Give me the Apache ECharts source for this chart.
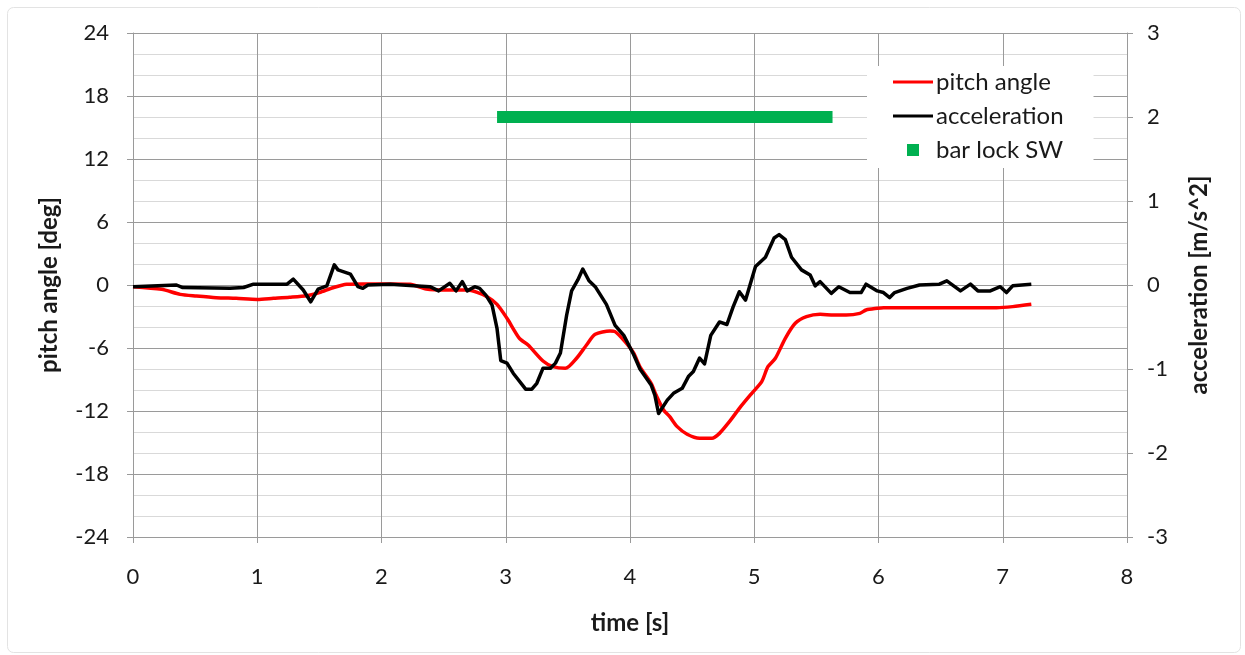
<!DOCTYPE html>
<html>
<head>
<meta charset="utf-8">
<script src="https://cdn.jsdelivr.net/npm/echarts@6/dist/echarts.min.js"></script>
<style>
html,body{margin:0;padding:0;background:#fff;}
#chart{width:1245px;height:655px;}
</style>
</head>
<body>
<div id="chart"></div>
<script>
// ---- data ----
const accTime = [0,0.35,0.4,0.78,0.89,0.97,1.24,1.29,1.37,1.43,1.49,1.56,1.62,1.65,1.75,1.81,1.85,1.89,2.07,2.26,2.39,2.46,2.55,2.6,2.65,2.69,2.75,2.79,2.84,2.89,2.93,2.96,3.01,3.06,3.16,3.21,3.25,3.3,3.36,3.4,3.44,3.49,3.53,3.58,3.62,3.67,3.72,3.81,3.88,3.95,4.03,4.08,4.17,4.2,4.23,4.3,4.35,4.42,4.47,4.51,4.56,4.6,4.65,4.72,4.78,4.83,4.88,4.93,5.01,5.09,5.16,5.2,5.25,5.3,5.38,5.45,5.49,5.53,5.62,5.68,5.77,5.86,5.9,5.99,6.04,6.09,6.13,6.23,6.33,6.49,6.55,6.66,6.74,6.8,6.9,6.98,7.03,7.08,7.23];
const accVal = [-0.02,0,-0.03,-0.04,-0.03,0.01,0.01,0.07,-0.06,-0.2,-0.05,-0.01,0.24,0.18,0.13,-0.02,-0.04,0,0.01,-0.01,-0.02,-0.07,0.02,-0.07,0.04,-0.07,-0.02,-0.04,-0.12,-0.24,-0.52,-0.9,-0.93,-1.05,-1.24,-1.24,-1.17,-0.99,-0.99,-0.93,-0.81,-0.36,-0.07,0.06,0.19,0.05,-0.02,-0.23,-0.48,-0.6,-0.83,-1.0,-1.19,-1.31,-1.53,-1.37,-1.29,-1.23,-1.09,-1.03,-0.87,-0.94,-0.6,-0.44,-0.47,-0.26,-0.08,-0.18,0.22,0.33,0.56,0.6,0.54,0.33,0.18,0.12,-0.01,0.04,-0.1,-0.02,-0.09,-0.09,0.01,-0.07,-0.09,-0.15,-0.09,-0.04,0,0.01,0.05,-0.07,0.01,-0.07,-0.07,-0.02,-0.09,-0.01,0.01];

const pitchTime = [0,0.23,0.38,0.51,0.67,0.83,1.0,1.13,1.26,1.4,1.5,1.61,1.72,1.85,2.07,2.23,2.36,2.52,2.69,2.77,2.85,2.93,3.01,3.11,3.18,3.3,3.38,3.48,3.57,3.65,3.72,3.84,3.88,3.96,4.03,4.08,4.17,4.21,4.27,4.32,4.38,4.46,4.56,4.66,4.72,4.8,4.88,4.98,5.06,5.11,5.17,5.25,5.33,5.42,5.53,5.64,5.74,5.85,5.9,5.99,6.04,6.95,7.08,7.23];
const pitchDeg = [-0.16,-0.41,-0.89,-1.05,-1.21,-1.27,-1.37,-1.27,-1.17,-1.02,-0.73,-0.26,0.07,0.1,0.1,0.07,-0.38,-0.48,-0.48,-0.7,-1.11,-1.84,-3.17,-5.08,-5.71,-7.24,-7.78,-7.94,-6.98,-5.71,-4.7,-4.38,-4.44,-5.4,-6.5,-7.8,-9.37,-10.48,-11.9,-12.54,-13.49,-14.22,-14.6,-14.6,-14.13,-13.02,-11.75,-10.32,-9.21,-7.78,-6.98,-5.08,-3.65,-3.02,-2.79,-2.86,-2.86,-2.7,-2.38,-2.22,-2.16,-2.16,-2.06,-1.84];

const barLockTime = [2.93, 5.63];
const barLockVal = [2, 2];

const seriesNames = ['pitch angle', 'acceleration', 'bar lock SW'];
const xTitle = 'time [s]';
const yLeftTitle = 'pitch angle [deg]';
const yRightTitle = 'acceleration [m/s^2]';

// ---- build ----
const zip = (a, b) => a.map((v, i) => [v, b[i]]);
const FONT = 'Lato';
const TXT = '#1a1a1a';
const MAJOR = '#9a9a9a';
const MINOR = '#d9d9d9';
const LINE_ICON = 'path://M0,0L0,0.01M0,4.5h40v3H0zM40,12L40,11.99';
const SQUARE_ICON = 'path://M0,0L0,0.01M14,0h12v12h-12zM40,12L40,11.99';

const chart = echarts.init(document.getElementById('chart'), null, {renderer: 'canvas'});
chart.setOption({
  animation: false,
  backgroundColor: '#ffffff',
  textStyle: {fontFamily: FONT},
  grid: {left: 133, right: 118, top: 33, bottom: 118, containLabel: false},
  graphic: [{
    type: 'rect', left: 5, top: 5, z: -1,
    shape: {width: 1233, height: 645, r: 6},
    style: {fill: 'none', stroke: '#e3e3e3', lineWidth: 1}
  }],
  legend: {
    orient: 'vertical',
    left: 867, top: 66,
    padding: [4, 30, 6, 26],
    itemGap: 10,
    itemWidth: 40, itemHeight: 12,
    backgroundColor: '#ffffff',
    z: 10,
    textStyle: {fontFamily: FONT, fontSize: 24, color: TXT, lineHeight: 24, padding: [0, 0, 0, -2]},
    data: [
      {name: seriesNames[0], icon: LINE_ICON},
      {name: seriesNames[1], icon: LINE_ICON},
      {name: seriesNames[2], icon: SQUARE_ICON}
    ]
  },
  xAxis: {
    type: 'value', min: 0, max: 8, interval: 1,
    name: xTitle, nameLocation: 'middle', nameGap: 74,
    nameTextStyle: {fontFamily: FONT, fontSize: 24, fontWeight: 'bold', color: TXT},
    axisLine: {show: true, onZero: false, lineStyle: {color: MAJOR, width: 1}},
    axisTick: {show: true, inside: false, length: 6, lineStyle: {color: MAJOR}},
    axisLabel: {fontFamily: FONT, fontSize: 22, color: TXT, margin: 29},
    splitLine: {show: true, lineStyle: {color: MAJOR, width: 1}}
  },
  yAxis: [{
    type: 'value', min: -24, max: 24, interval: 6, position: 'left',
    name: yLeftTitle, nameLocation: 'middle', nameGap: 72, nameRotate: 90,
    nameTextStyle: {fontFamily: FONT, fontSize: 24, fontWeight: 'bold', color: TXT},
    axisLine: {show: true, lineStyle: {color: MAJOR, width: 1}},
    axisTick: {show: true, inside: false, length: 6, lineStyle: {color: MAJOR}},
    axisLabel: {fontFamily: FONT, fontSize: 22, color: TXT, margin: 24},
    splitLine: {show: true, lineStyle: {color: MAJOR, width: 1}},
    minorTick: {show: false, splitNumber: 3},
    minorSplitLine: {show: true, lineStyle: {color: MINOR, width: 1}}
  }, {
    type: 'value', min: -3, max: 3, interval: 1, position: 'right',
    name: yRightTitle, nameLocation: 'middle', nameGap: 60, nameRotate: 90,
    nameTextStyle: {fontFamily: FONT, fontSize: 24, fontWeight: 'bold', color: TXT},
    axisLine: {show: true, lineStyle: {color: MAJOR, width: 1}},
    axisTick: {show: true, inside: false, length: 6, lineStyle: {color: MAJOR}},
    axisLabel: {fontFamily: FONT, fontSize: 22, color: TXT, margin: 20},
    splitLine: {show: false}
  }],
  series: [{
    name: seriesNames[0], type: 'line', yAxisIndex: 0,
    data: zip(pitchTime, pitchDeg),
    showSymbol: false, symbol: 'none', smooth: 0.25,
    lineStyle: {color: '#ff0000', width: 3.5},
    itemStyle: {color: '#ff0000'}, z: 3
  }, {
    name: seriesNames[1], type: 'line', yAxisIndex: 1,
    data: zip(accTime, accVal),
    showSymbol: false, symbol: 'none',
    lineStyle: {color: '#000000', width: 3.5, join: 'round'},
    itemStyle: {color: '#000000'}, z: 4
  }, {
    name: seriesNames[2], type: 'line', yAxisIndex: 1,
    data: zip(barLockTime, barLockVal),
    showSymbol: false, symbol: 'none',
    lineStyle: {color: '#00b050', width: 12, cap: 'butt'},
    itemStyle: {color: '#00b050'}, z: 2
  }]
});
</script>
</body>
</html>
